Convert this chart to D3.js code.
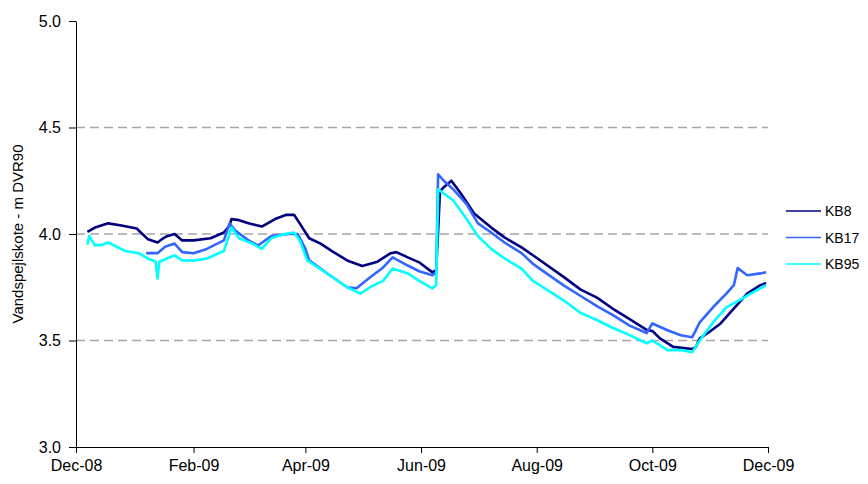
<!DOCTYPE html>
<html><head><meta charset="utf-8">
<script src="https://cdn.jsdelivr.net/npm/d3@7"></script>
<style>body{margin:0;background:#fff}svg{display:block}text{font-family:"Liberation Sans",Arial,sans-serif}</style>
</head><body><svg id="c" width="868" height="484"></svg>
<script>
const seriesNames = ["KB8", "KB17", "KB95"];
const seriesColors = ["#000080", "#3366FF", "#00FFFF"];
const yTicks = [3.0, 3.5, 4.0, 4.5, 5.0];
const xTickDates = ["2008-12-01","2009-02-01","2009-04-01","2009-06-01","2009-08-01","2009-10-01","2009-12-01"];
const xTickLabels = ["Dec-08","Feb-09","Apr-09","Jun-09","Aug-09","Oct-09","Dec-09"];

const kb8 = [
["2008-12-07",4.01],["2008-12-11",4.03],["2008-12-18",4.05],["2008-12-25",4.04],["2009-01-02",4.026],
["2009-01-08",3.975],["2009-01-13",3.96],["2009-01-16",3.98],["2009-01-18",3.99],["2009-01-22",4.0],
["2009-01-26",3.97],["2009-02-01",3.97],["2009-02-10",3.98],["2009-02-17",4.007],["2009-02-20",4.04],
["2009-02-21",4.07],["2009-02-25",4.065],["2009-03-02",4.05],["2009-03-09",4.035],["2009-03-16",4.07],
["2009-03-22",4.09],["2009-03-26",4.09],["2009-03-29",4.05],["2009-04-03",3.98],["2009-04-09",3.955],
["2009-04-15",3.92],["2009-04-23",3.876],["2009-05-01",3.85],["2009-05-09",3.87],["2009-05-16",3.91],
["2009-05-19",3.915],["2009-05-25",3.89],["2009-05-31",3.867],["2009-06-07",3.82],["2009-06-09",3.83],
["2009-06-11",4.2],["2009-06-13",4.22],["2009-06-17",4.25],["2009-06-22",4.19],["2009-06-29",4.096],
["2009-07-08",4.03],["2009-07-15",3.984],["2009-07-24",3.937],["2009-07-30",3.9],["2009-08-15",3.8],
["2009-08-24",3.74],["2009-09-02",3.7],["2009-09-10",3.65],["2009-09-19",3.6],["2009-09-28",3.55],
["2009-10-01",3.545],["2009-10-05",3.51],["2009-10-12",3.47],["2009-10-22",3.46],["2009-10-24",3.47],
["2009-10-26",3.51],["2009-10-31",3.54],["2009-11-06",3.58],["2009-11-12",3.64],["2009-11-20",3.72],
["2009-11-27",3.76],["2009-11-30",3.77]
];
const kb17 = [
["2009-01-07",3.91],["2009-01-13",3.91],["2009-01-17",3.94],["2009-01-22",3.955],["2009-01-26",3.915],
["2009-02-01",3.91],["2009-02-08",3.93],["2009-02-17",3.97],["2009-02-20",4.05],["2009-02-23",4.016],
["2009-03-02",3.97],["2009-03-07",3.946],["2009-03-14",3.99],["2009-03-23",4.0],["2009-03-28",4.0],
["2009-04-01",3.93],["2009-04-03",3.876],["2009-04-14",3.805],["2009-04-23",3.75],["2009-04-28",3.745],
["2009-05-05",3.796],["2009-05-12",3.843],["2009-05-17",3.89],["2009-05-25",3.852],["2009-05-31",3.825],
["2009-06-07",3.806],["2009-06-09",3.82],["2009-06-10",4.28],["2009-06-13",4.25],["2009-06-18",4.21],
["2009-06-25",4.14],["2009-07-01",4.05],["2009-07-08",4.007],["2009-07-15",3.96],["2009-07-24",3.91],
["2009-07-30",3.86],["2009-08-15",3.76],["2009-08-24",3.71],["2009-09-02",3.66],["2009-09-10",3.62],
["2009-09-19",3.57],["2009-09-28",3.535],["2009-10-01",3.58],["2009-10-09",3.548],["2009-10-16",3.525],
["2009-10-22",3.515],["2009-10-26",3.585],["2009-11-02",3.656],["2009-11-09",3.72],["2009-11-13",3.76],
["2009-11-15",3.84],["2009-11-20",3.806],["2009-11-27",3.815],["2009-11-30",3.82]
];
const kb95 = [
["2008-12-07",3.95],["2008-12-08",3.99],["2008-12-11",3.946],["2008-12-15",3.95],["2008-12-18",3.96],
["2008-12-27",3.92],["2009-01-03",3.91],["2009-01-08",3.885],["2009-01-12",3.87],["2009-01-13",3.79],
["2009-01-14",3.87],["2009-01-18",3.885],["2009-01-22",3.9],["2009-01-26",3.876],["2009-02-01",3.875],
["2009-02-08",3.885],["2009-02-17",3.92],["2009-02-21",4.03],["2009-02-25",3.98],["2009-03-04",3.955],
["2009-03-09",3.93],["2009-03-14",3.98],["2009-03-21",4.0],["2009-03-26",4.007],["2009-03-29",3.97],
["2009-04-02",3.876],["2009-04-14",3.805],["2009-04-23",3.75],["2009-04-30",3.72],["2009-05-05",3.75],
["2009-05-12",3.78],["2009-05-17",3.838],["2009-05-25",3.815],["2009-05-31",3.78],["2009-06-07",3.745],
["2009-06-09",3.76],["2009-06-10",4.21],["2009-06-13",4.19],["2009-06-18",4.157],["2009-06-25",4.07],
["2009-07-01",3.99],["2009-07-08",3.93],["2009-07-15",3.885],["2009-07-24",3.838],["2009-07-30",3.78],
["2009-08-15",3.69],["2009-08-24",3.63],["2009-09-02",3.595],["2009-09-10",3.56],["2009-09-19",3.525],
["2009-09-28",3.487],["2009-10-01",3.5],["2009-10-09",3.455],["2009-10-16",3.455],["2009-10-22",3.445],
["2009-10-26",3.5],["2009-11-02",3.585],["2009-11-09",3.656],["2009-11-16",3.69],["2009-11-23",3.726],
["2009-11-30",3.76]
];
const seriesData = [kb8, kb17, kb95];

const parse = d3.utcParse("%Y-%m-%d");
const svg = d3.select("#c");
const x = d3.scaleUtc().domain([parse("2008-12-01"), parse("2009-12-01")]).range([76, 768]);
const y = d3.scaleLinear().domain([3, 5]).range([447, 21]);

// gridlines
svg.append("g").selectAll("line").data(yTicks.filter(v => v > 3 && v < 5)).join("line")
  .attr("x1", 76).attr("x2", 768).attr("y1", d => y(d)).attr("y2", d => y(d))
  .attr("stroke", "#a6a6a6").attr("stroke-width", 1.5).attr("stroke-dasharray", "9,5");

// series
const line = d3.line().x(d => x(parse(d[0]))).y(d => y(d[1]));
seriesData.forEach((s, i) => {
  svg.append("path").datum(s).attr("d", line).attr("fill", "none")
    .attr("stroke", seriesColors[i]).attr("stroke-width", 2.6).attr("stroke-linejoin", "round");
});

// axes
const yAxis = d3.axisLeft(y).tickValues(yTicks).tickFormat(d3.format(".1f")).tickSizeInner(7).tickSizeOuter(0).tickPadding(8);
const gy = svg.append("g").attr("transform", "translate(76,0)").call(yAxis);
gy.selectAll("text").attr("font-size", 16).attr("fill", "#000");
gy.selectAll("line,path").attr("stroke", "#000");

const xAxis = d3.axisBottom(x).tickValues(xTickDates.map(parse))
  .tickFormat((d, i) => xTickLabels[i]).tickSizeInner(6).tickSizeOuter(0).tickPadding(7);
const gx = svg.append("g").attr("transform", "translate(0,447)").call(xAxis);
gx.selectAll("text").attr("font-size", 16).attr("fill", "#000");
gx.selectAll("line,path").attr("stroke", "#000");

// y title
svg.append("text").attr("transform", "translate(23,234) rotate(-90)")
  .attr("text-anchor", "middle").attr("font-size", 15).text("Vandspejlskote - m DVR90");

// legend
const lg = svg.append("g");
seriesNames.forEach((n, i) => {
  const yy = 211 + i * 26.5;
  lg.append("line").attr("x1", 786).attr("x2", 821).attr("y1", yy).attr("y2", yy)
    .attr("stroke", seriesColors[i]).attr("stroke-width", 1.5);
  lg.append("text").attr("x", 825).attr("y", yy + 5).attr("font-size", 14).text(n);
});
</script></body></html>
